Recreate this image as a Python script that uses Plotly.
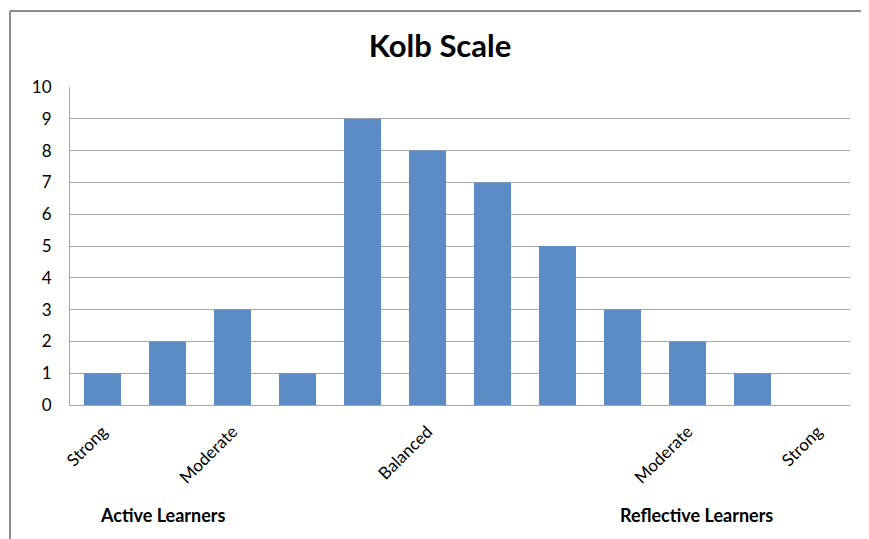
import plotly.graph_objects as go

positions = [1, 2, 3, 4, 5, 6, 7, 8, 9, 10, 11, 12]
counts = [1, 2, 3, 1, 9, 8, 7, 5, 3, 2, 1, 0]
tick_labels = ["Strong", "", "Moderate", "", "", "Balanced", "", "", "", "Moderate", "", "Strong"]
group_labels = ["Active Learners", "Reflective Learners"]

OFF = 8  # page body margin
W, H = 861, 531
pl, pr, pt, pb = 70, 850, 87, 405   # target plot area in screen px
L, T = pl - OFF, pt - OFF
R = W - L - (pr - pl)
B = H - T - (pb - pt)
pw, ph = pr - pl, pb - pt

def px(x):
    return (x - pl) / pw

def py(y):
    return (pb - y) / ph

FONT = "Lato, Open Sans, sans-serif"

fig = go.Figure(go.Bar(x=positions, y=counts, marker_color="#5B8CC6",
                       marker_line_width=0, width=0.57))

fig.update_layout(
    width=W, height=H,
    margin=dict(l=L, r=R, t=T, b=B),
    paper_bgcolor="white", plot_bgcolor="white",
    font=dict(family=FONT, color="#000000", size=16),
    title=dict(text="<b>Kolb Scale</b>", x=px(440), xanchor="center", xref="paper",
               y=1 - (46 - OFF) / H, yanchor="middle", font=dict(size=31, family=FONT)),
    showlegend=False,
    xaxis=dict(range=[0.5, 12.5], tickmode="array", tickvals=positions, ticktext=tick_labels,
               tickangle=-45, showgrid=False, showline=True, linecolor="#A6A6A6",
               linewidth=1, ticks="", tickfont=dict(size=17), ticklabelstandoff=9),
    yaxis=dict(range=[0, 10], dtick=1, showgrid=True, gridcolor="#A6A6A6", gridwidth=1,
               showline=True, linecolor="#A6A6A6", zeroline=False, ticks="",
               tickfont=dict(size=17), ticklabelstandoff=14),
    bargap=0.43,
)

border = dict(color="#8C8C8C", width=2)
fig.add_shape(type="line", xref="paper", yref="paper",
              x0=px(10), x1=px(900), y0=py(11), y1=py(11), line=border, layer="below")
fig.add_shape(type="line", xref="paper", yref="paper",
              x0=px(10), x1=px(10), y0=py(11), y1=py(600), line=border, layer="below")

fig.add_annotation(text="<b>" + group_labels[0] + "</b>", xref="paper", yref="paper",
                   x=px(163), y=py(515), showarrow=False, font=dict(size=18),
                   xanchor="center", yanchor="middle")
fig.add_annotation(text="<b>" + group_labels[1] + "</b>", xref="paper", yref="paper",
                   x=px(696), y=py(515), showarrow=False, font=dict(size=18),
                   xanchor="center", yanchor="middle")

fig.write_html("out.html")
